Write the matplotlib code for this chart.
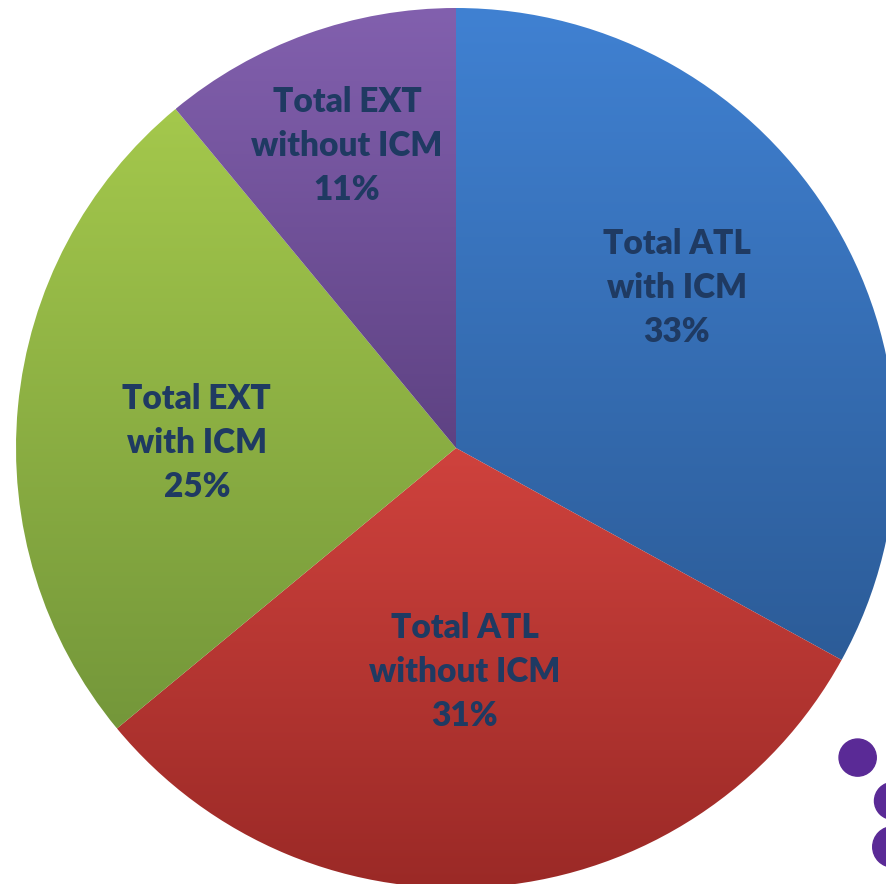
import numpy as np
import matplotlib
matplotlib.use("Agg")
import matplotlib.pyplot as plt
from matplotlib.colors import LinearSegmentedColormap
from matplotlib.patches import Circle

labels = ["Total ATL\nwith ICM", "Total ATL\nwithout ICM", "Total EXT\nwith ICM", "Total EXT\nwithout ICM"]
shares = [33, 31, 25, 11]
top_colors = ["#4081d2", "#cf423d", "#a4c84c", "#8260ae"]
bottom_colors = ["#2c5c98", "#9a2926", "#74973a", "#5e4283"]
# label centres, in pie radius units
label_pos = [(0.502, 0.364), (0.020, -0.509), (-0.589, 0.011), (-0.248, 0.686)]

plt.rcParams["font.family"] = ["Lato", "DejaVu Sans"]

fig = plt.figure(figsize=(8.86, 8.84), dpi=100)
ax = fig.add_axes([0, 0, 1, 1])

wedges, _ = ax.pie(shares, startangle=90, counterclock=False, radius=1.0,
                   wedgeprops=dict(linewidth=0))

grad = np.linspace(0, 1, 256).reshape(-1, 1)
for w, c0, c1 in zip(wedges, top_colors, bottom_colors):
    pts = w.get_patch_transform().transform(w.get_path().vertices)
    x0, x1 = pts[:, 0].min(), pts[:, 0].max()
    y0, y1 = pts[:, 1].min(), pts[:, 1].max()
    cmap = LinearSegmentedColormap.from_list("g", [c0, c1])
    w.set_facecolor("none")
    im = ax.imshow(grad, cmap=cmap, extent=(x0, x1, y0, y1), aspect="auto",
                   origin="upper", zorder=1, interpolation="bilinear")
    im.set_clip_path(w)

for lab, s, (px, py) in zip(labels, shares, label_pos):
    ax.text(px, py, f"{lab}\n{s}%", ha="center", va="center",
            fontsize=24, fontweight="heavy", color="#1f3a62", linespacing=1.45, zorder=3)

# decorative dots in the corner
for cx, cy, rr in [(0.968, 0.143, 0.021), (1.008, 0.094, 0.021), (1.008, 0.042, 0.023)]:
    ax.add_patch(Circle((cx, cy), rr, transform=ax.transAxes, color="#5a2a96", zorder=4, clip_on=False))

ax.set_xlim(-456 / 440, (886 - 456) / 440)
ax.set_ylim(-(884 - 448) / 440, 448 / 440)
ax.set_aspect("auto")
ax.axis("off")

plt.savefig("out.png", dpi=100)
